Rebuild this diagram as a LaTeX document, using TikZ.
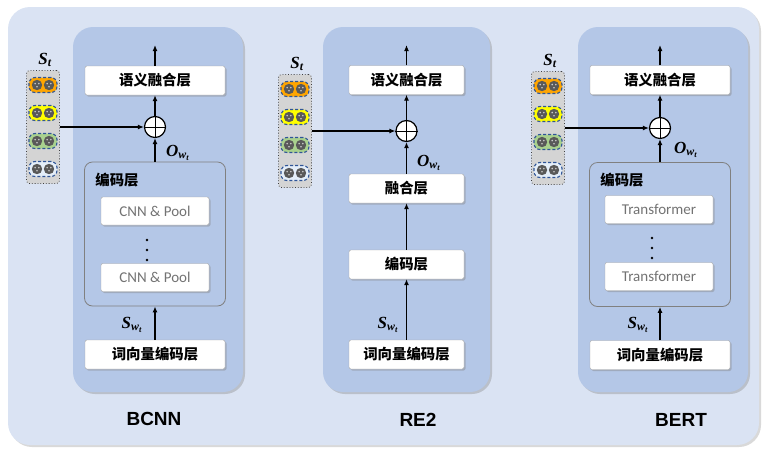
\documentclass[tikz,border=0pt]{standalone}
\usepackage{fontspec}
\usepackage{amsmath}
\setsansfont{Carlito}
\newfontfamily\cjk{Noto Sans CJK SC}
\newfontfamily\headfont{Liberation Sans}
\newfontfamily\lblfont{Liberation Serif}
\newcommand\bfi[1]{\text{\lblfont\bfseries\itshape #1}}
\usetikzlibrary{positioning, shadows, arrows.meta}
\definecolor{bgblue}{HTML}{DAE3F3}
\definecolor{panelblue}{HTML}{B4C7E7}
\definecolor{boxgray}{HTML}{A6A6A6}
\definecolor{pillorange}{HTML}{FFA500}
\definecolor{pillyellow}{HTML}{FFFF00}
\definecolor{pillgreen}{HTML}{A9D18E}
\definecolor{pillwhite}{HTML}{E4EEF9}
\definecolor{pilledge}{HTML}{2F5597}

\begin{document}
\begin{tikzpicture}[x=1pt, y=-1pt,
  panel/.style={fill=panelblue, rounded corners=20pt,
    drop shadow={shadow xshift=2pt, shadow yshift=-2pt, opacity=0.35}},
  layer/.style={draw=boxgray, fill=white, rounded corners=2pt, inner sep=0pt,
    minimum width=140pt, minimum height=29pt,
    font=\cjk\bfseries\fontsize{14.4}{16}\selectfont,
    drop shadow={shadow xshift=1.5pt, shadow yshift=-1.5pt, opacity=0.4}},
  sublayer/.style={layer, minimum width=108pt, minimum height=28pt,
    text=black!55, font=\sffamily\fontsize{15}{17}\selectfont},
  encbox/.style={draw=gray, fill=panelblue, rounded corners=8pt, line width=0.8pt,
    minimum width=141pt, minimum height=144pt, inner sep=0pt},
  oplus/.style={circle, draw, fill=white, line width=1.2pt, minimum size=21pt, inner sep=0pt},
  stbox/.style={draw=black!75, dotted, line width=0.8pt, fill=black!17, rounded corners=3pt,
    minimum width=33pt, minimum height=113pt, inner sep=0pt},
  pill/.style={draw=pilledge, dash pattern=on 3pt off 2pt, line width=1.1pt, rounded corners=6pt,
    minimum width=28pt, minimum height=15pt, inner sep=0pt},
  arr/.style={-{Latex[length=6pt,width=5pt]}, line width=1.6pt},
  lbl/.style={font=\fontsize{17}{19}\selectfont},
  modelname/.style={font=\headfont\bfseries\fontsize{19}{21}\selectfont}]

  \useasboundingbox (0,0) rectangle (763,448);
  % background and the three panels
  \fill[bgblue, rounded corners=22pt, drop shadow={shadow xshift=2pt, shadow yshift=-2pt, opacity=0.3}]
    (8,7) rectangle (759,445);
  \path[panel] (73,27) rectangle (243,392);
  \path[panel] (323,27) rectangle (490,392);
  \path[panel] (578,27) rectangle (748,392);

  % S_t stacks
  \foreach \sx/\sy/\sn in {43/127/1, 295/131/2, 548/128/3} {
    \node[stbox] (st\sn) at (\sx,\sy) {};
    \node[lbl] (stl\sn) at (\sx+2,\sy-67) {$\bfi{S}_{\bfi{t}}$};
    \foreach \c [count=\i] in {pillorange,pillyellow,pillgreen,pillwhite} {
      \node[pill, fill=\c] (p\sn\i) at (\sx,\sy-70+28*\i) {};
      \foreach \dx in {-6,6} {
        \fill[black!65] (\sx+\dx,\sy-70+28*\i) circle (5.2pt);
        \fill[black!20] (\sx+\dx-1.8,\sy-70+28*\i-1.4) circle (0.9pt)
                        (\sx+\dx+1.8,\sy-70+28*\i-1.4) circle (0.9pt)
                        (\sx+\dx,\sy-70+28*\i+1.8) circle (0.9pt);
      }
    }
  }

  % BCNN
  \node[layer] (sem1) at (155,80.5) {语义融合层};
  \node[oplus] (ox1) at (155,127) {};
  \node[encbox] (enc1) at (155,234) {};
  \node[font=\cjk\bfseries\fontsize{14.4}{16}\selectfont] (encl1) at (117,180) {编码层};
  \node[sublayer] (cnna) at (155,211) {CNN \& Pool};
  \node[sublayer] (cnnb) at (155,277.5) {CNN \& Pool};
  \foreach \dy in {240,250,260} \fill (147,\dy) circle (1.4pt);
  \node[layer] (emb1) at (155,354.5) {词向量编码层};
  \coordinate (top1) at (155,45);
  \node[lbl] (ow1) at (178,153) {$\bfi{O}_{\bfi{w}_{\bfi{t}}}$};
  \node[lbl] (sw1) at (132,325) {$\bfi{S}_{\bfi{w}_{\bfi{t}}}$};
  \node[modelname] (m1) at (154,419) {BCNN};

  % RE2
  \node[layer, minimum width=115pt] (sem2) at (406.5,80) {语义融合层};
  \node[oplus] (ox2) at (406.5,131) {};
  \node[layer, minimum width=115pt] (fus2) at (406.5,188.5) {融合层};
  \node[layer, minimum width=115pt] (enc2) at (406.5,264.5) {编码层};
  \node[layer, minimum width=115pt] (emb2) at (406.5,354.5) {词向量编码层};
  \coordinate (top2) at (406.5,45);
  \node[lbl] (ow2) at (429,163) {$\bfi{O}_{\bfi{w}_{\bfi{t}}}$};
  \node[lbl] (sw2) at (388,325) {$\bfi{S}_{\bfi{w}_{\bfi{t}}}$};
  \node[modelname] (m2) at (418,420) {RE2};

  % BERT
  \node[layer] (sem3) at (660,80) {语义融合层};
  \node[oplus] (ox3) at (660,128) {};
  \node[encbox] (enc3) at (660,234.5) {};
  \node[font=\cjk\bfseries\fontsize{14.4}{16}\selectfont] (encl3) at (622,180) {编码层};
  \node[sublayer] (tfa) at (659,209.5) {Transformer};
  \node[sublayer] (tfb) at (659,276.5) {Transformer};
  \foreach \dy in {238,248,258} \fill (652,\dy) circle (1.4pt);
  \node[layer] (emb3) at (660,355) {词向量编码层};
  \coordinate (top3) at (660,45);
  \node[lbl] (ow3) at (686,150) {$\bfi{O}_{\bfi{w}_{\bfi{t}}}$};
  \node[lbl] (sw3) at (638,325) {$\bfi{S}_{\bfi{w}_{\bfi{t}}}$};
  \node[modelname] (m3) at (681,420) {BERT};

  % connectors
  \foreach \n in {1,2,3} {
    \draw[line width=1pt] (ox\n.north) -- (ox\n.south) (ox\n.west) -- (ox\n.east);
    \draw[arr] (st\n.east) -- (ox\n);
    \draw[arr] (ox\n) -- (sem\n);
    \draw[arr] (sem\n) -- (top\n);
  }
  \draw[arr] (emb1) -- (enc1);
  \draw[arr] (enc1) -- (ox1);
  \draw[arr] (emb2) -- (enc2);
  \draw[arr] (enc2) -- (fus2);
  \draw[arr] (fus2) -- (ox2);
  \draw[arr] (emb3) -- (enc3);
  \draw[arr] (enc3) -- (ox3);
\end{tikzpicture}
\end{document}
